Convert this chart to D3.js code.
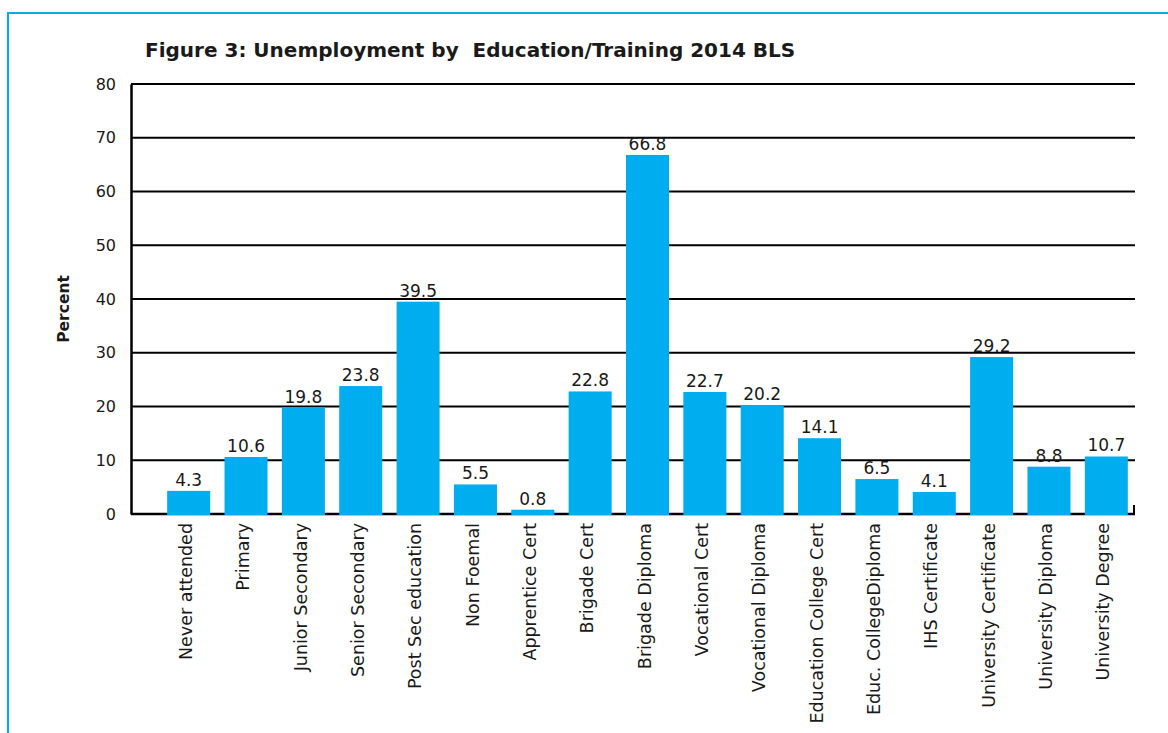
<!DOCTYPE html>
<html>
<head>
<meta charset="utf-8">
<script src="https://cdn.jsdelivr.net/npm/d3@7"></script>
<style>
  body { margin: 0; background: #fff; }
  text { font-family: "DejaVu Sans", sans-serif; fill: #1a1a1a; }
</style>
</head>
<body>
<div id="chart"></div>
<script>
// Categories and values
const categories = [
  "Never attended", "Primary", "Junior Secondary", "Senior Secondary",
  "Post Sec education", "Non Foemal", "Apprentice Cert", "Brigade Cert",
  "Brigade Diploma", "Vocational Cert", "Vocational Diploma",
  "Education College Cert", "Educ. CollegeDiploma", "IHS Certificate",
  "University Certificate", "University Diploma", "University Degree"
];
const percents = [4.3, 10.6, 19.8, 23.8, 39.5, 5.5, 0.8, 22.8, 66.8, 22.7, 20.2, 14.1, 6.5, 4.1, 29.2, 8.8, 10.7];
const yTicks = [0, 10, 20, 30, 40, 50, 60, 70, 80];

document.addEventListener('DOMContentLoaded', function() {
  const W = 1168, H = 733;
  const axisLeft = 131, plotRight = 1135, plotTop = 84, plotBottom = 514;

  const svg = d3.select("#chart").append("svg")
      .attr("width", W)
      .attr("height", H);

  // Blue frame round the figure (runs off the right and bottom)
  svg.append("rect")
      .attr("x", 8).attr("y", 13)
      .attr("width", W + 20).attr("height", H + 20)
      .attr("fill", "none")
      .attr("stroke", "#00aeef")
      .attr("stroke-width", 2);

  // Scales
  const x = d3.scaleBand()
      .domain(categories)
      .range([160, plotRight])
      .paddingInner(0.25)
      .paddingOuter(0.125);

  const y = d3.scaleLinear()
      .domain([0, 80])
      .range([plotBottom, plotTop]);

  // Gridlines
  svg.selectAll(".grid")
      .data(yTicks)
      .enter().append("line")
      .attr("class", "grid")
      .attr("x1", axisLeft).attr("x2", plotRight)
      .attr("y1", d => y(d)).attr("y2", d => y(d))
      .attr("stroke", "#000")
      .attr("stroke-width", d => d === 0 ? 2.5 : 2);

  // Left axis line and tick labels
  const yAxis = svg.append("g")
      .attr("transform", "translate(" + axisLeft + ",0)")
      .call(d3.axisLeft(y).tickValues(yTicks).tickSize(0).tickPadding(15));
  yAxis.select(".domain")
      .attr("stroke", "#000")
      .attr("stroke-width", 2.5);
  yAxis.selectAll("text")
      .style("font-family", "DejaVu Sans, sans-serif")
      .style("font-size", "16px")
      .attr("fill", "#1a1a1a");

  // small end tick at the right of the category axis
  svg.append("line")
      .attr("x1", plotRight - 1).attr("x2", plotRight - 1)
      .attr("y1", y(0) - 9).attr("y2", y(0))
      .attr("stroke", "#000")
      .attr("stroke-width", 2);

  // Bars
  svg.selectAll(".bar")
      .data(percents)
      .enter().append("rect")
      .attr("class", "bar")
      .attr("x", (d, i) => x(categories[i]))
      .attr("width", x.bandwidth())
      .attr("y", d => y(d))
      .attr("height", d => y(0) - y(d) + 1)
      .attr("fill", "#00adee");

  // Value labels
  svg.selectAll(".value")
      .data(percents)
      .enter().append("text")
      .attr("class", "value")
      .attr("x", (d, i) => x(categories[i]) + x.bandwidth() / 2)
      .attr("y", d => y(d) - 5)
      .attr("text-anchor", "middle")
      .style("font-size", "17px")
      .text(d => d.toFixed(1));

  // Category labels, rotated
  svg.selectAll(".cat")
      .data(categories)
      .enter().append("text")
      .attr("class", "cat")
      .attr("transform", d => "translate(" + (x(d) + x.bandwidth() / 2 - 3) + "," + (plotBottom + 9) + ") rotate(-90)")
      .attr("dy", "0.35em")
      .attr("text-anchor", "end")
      .style("font-size", "17.5px")
      .text(d => d);

  // Y axis title
  svg.append("text")
      .attr("transform", "translate(64,309) rotate(-90)")
      .attr("dy", "0.35em")
      .attr("text-anchor", "middle")
      .style("font-size", "15.5px")
      .style("font-weight", "bold")
      .text("Percent");

  // Chart title
  svg.append("text")
      .attr("x", 145)
      .attr("y", 57)
      .style("font-size", "20px")
      .style("font-weight", "bold")
      .style("white-space", "pre")
      .attr("fill", "#000")
      .text("Figure 3: Unemployment by  Education/Training 2014 BLS");
});
</script>
</body>
</html>
